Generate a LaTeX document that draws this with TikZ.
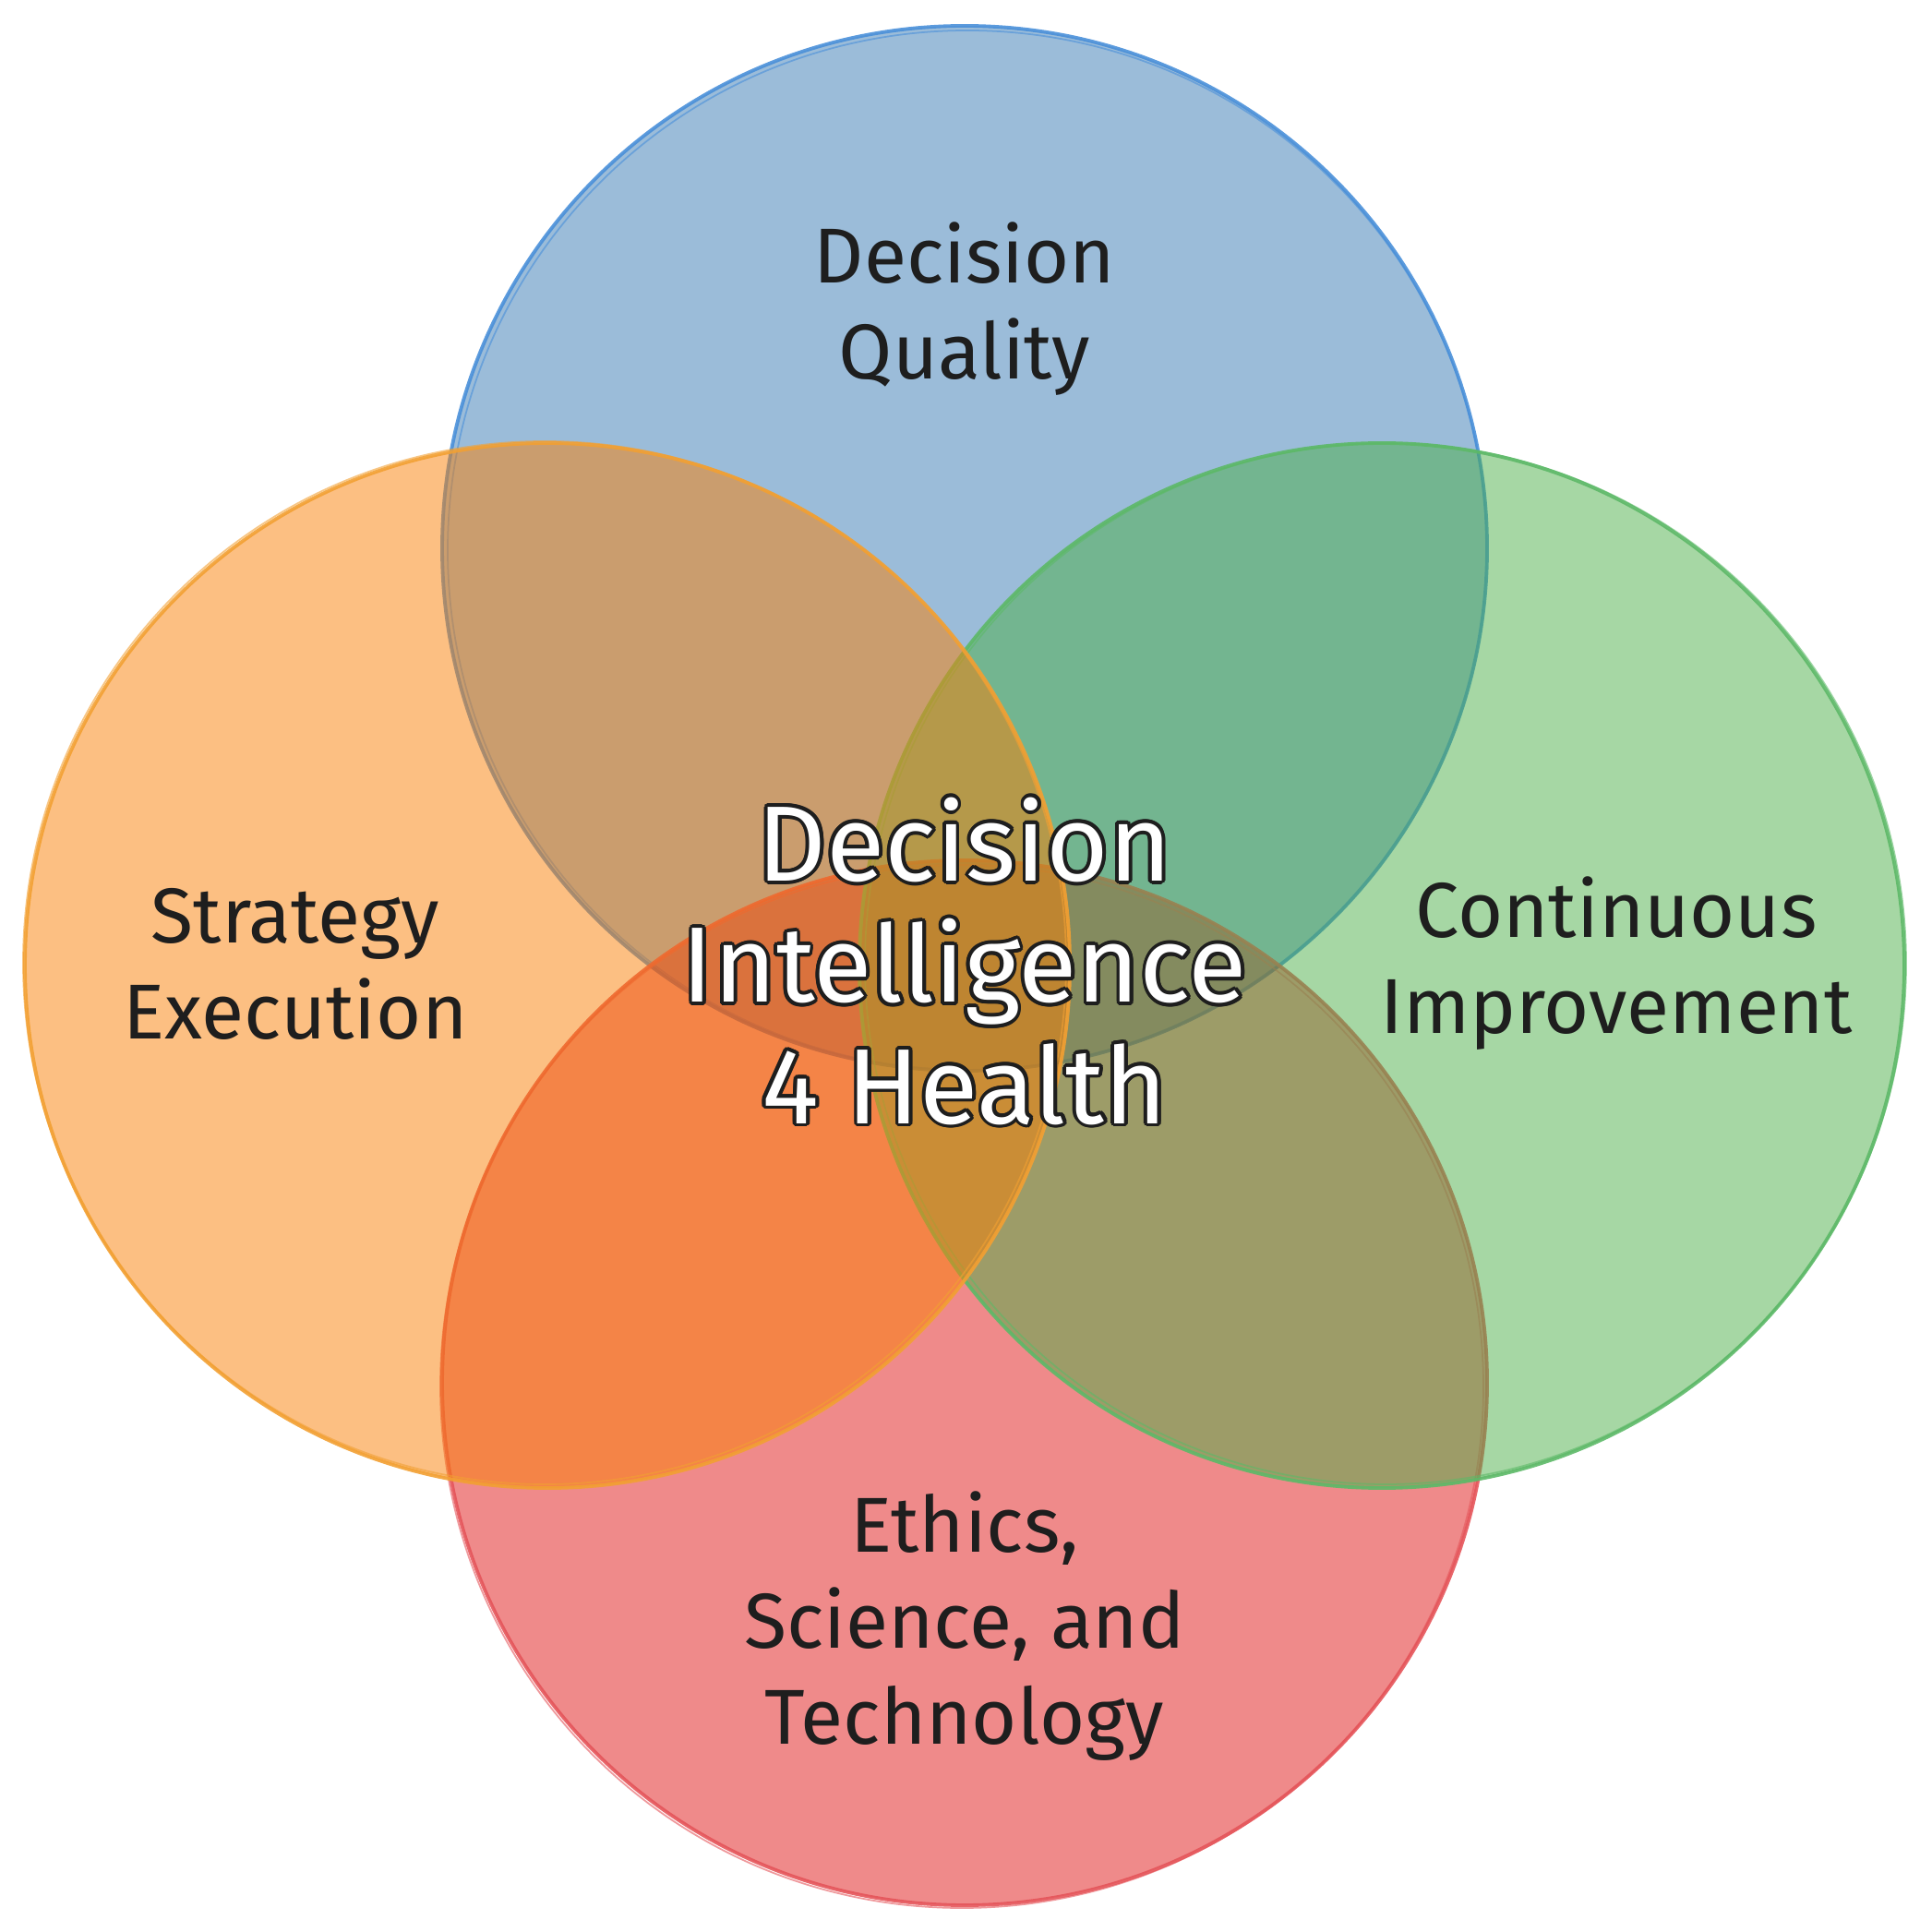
\documentclass[tikz,border=0pt]{standalone}
\usepackage{fontspec}
\setmainfont{Fira Sans}
\usepackage{xcolor}
\usepackage[copies]{contour}
\usetikzlibrary{positioning}
\definecolor{ink}{HTML}{1E1E1E}
\definecolor{bluefill}{RGB}{55,121,179}
\definecolor{redfill}{RGB}{223,21,21}
\definecolor{greenfill}{RGB}{77,175,73}
\definecolor{orangefill}{RGB}{249,127,5}
\definecolor{bluestroke}{HTML}{4A90D9}
\definecolor{redstroke}{HTML}{E5555A}
\definecolor{greenstroke}{HTML}{5DB968}
\definecolor{orangestroke}{HTML}{F2A033}
\contourlength{1.1pt}

\begin{document}
\begin{tikzpicture}[
  every node/.style={align=center},
  setcircle/.style={circle,minimum size=113.2mm,inner sep=0pt,fill=#1fill,fill opacity=0.5,
    draw=#1stroke,draw opacity=0.9,line width=1.1pt},
  sketch/.style={draw=#1stroke,line width=0.5pt,opacity=0.6},
  setlabel/.style={text=ink,font=\fontsize{24}{29.6}\selectfont},
  hubtext/.style={text=white,font=\fontsize{33}{37.4}\selectfont}
]
\useasboundingbox (0,0) rectangle (20.93,20.92);

% the four sets, in stacking order
\node[setcircle=blue] (quality) at (10.45,14.98) {};
\draw[sketch=blue] (quality.center) ++(0.03,-0.02) circle[radius=5.63];
\node[setcircle=red] (ethics) at (10.45,5.94) {};
\draw[sketch=red] (ethics.center) ++(-0.03,-0.04) circle[radius=5.65];
\node[setcircle=green] (improve) at (14.97,10.46) {};
\draw[sketch=green] (improve.center) ++(0.04,0.02) circle[radius=5.64];
\node[setcircle=orange] (strategy) at (5.93,10.46) {};
\draw[sketch=orange] (strategy.center) ++(-0.03,0.03) circle[radius=5.65];

% labels
\node[setlabel] (qualitytext) at (10.45,17.57) {Decision\\Quality};
\node[setlabel] (strategytext) at (3.20,10.48) {Strategy\\Execution};
\node[setlabel] (improvetext) at (17.51,10.48) {Continuous\\Improvement};
\node[setlabel] (ethicstext) at (10.45,3.30) {Ethics,\\Science, and\\Technology};
\node[hubtext] (hub) at (10.45,10.49)
  {\contour{ink}{Decision}\\\contour{ink}{Intelligence}\\\contour{ink}{4 Health}};
\end{tikzpicture}
\end{document}
